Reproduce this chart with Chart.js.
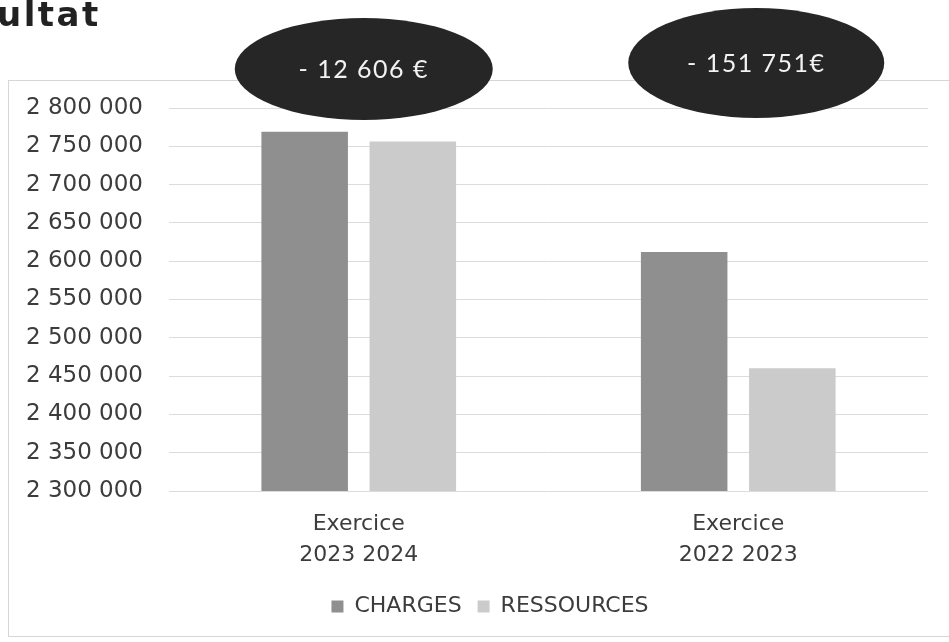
<!DOCTYPE html>
<html lang="fr">
<head>
<meta charset="utf-8">
<script src="https://cdn.jsdelivr.net/npm/chart.js@4/dist/chart.umd.min.js"></script>
<style>
  html, body { margin: 0; padding: 0; background: #fff; }
  #page { position: relative; width: 949px; height: 642px; overflow: hidden; }
  #titre { position: absolute; left: -3px; top: -3px; font: bold 34px "DejaVu Sans", sans-serif; letter-spacing: 2.5px; line-height: 1; color: #222; }
  #zone { position: absolute; left: 0; top: 0; width: 949px; height: 642px; }
</style>
</head>
<body>
<div id="page">
  <div id="zone"><canvas id="graphique"></canvas></div>
  <div id="titre">ultat</div>
</div>
<script>
// Données
const exercices = [['Exercice', '2023 2024'], ['Exercice', '2022 2023']];
const charges = [2768850, 2612000];
const ressources = [2756244, 2460249];
const ecarts = ['- 12 606 €', '- 151 751€'];
const axeMin = 2300000;
const axeMax = 2800000;
const axePas = 50000;

// Bulles noires au-dessus de chaque exercice (décalage / hauteur)
const bulles = [
    { dx: 5, y: 69, rx: 129, ry: 51 },
    { dx: 18, y: 63, rx: 128, ry: 55 }
];

const gris = '#3c3c3c';
const police = '"DejaVu Sans", sans-serif';

function formatMilliers(v) {
    return String(v).replace(/\B(?=(\d{3})+(?!\d))/g, ' ');
}

const cadrePlugin = {
    id: 'cadre',
    beforeDraw(chart) {
        const ctx = chart.ctx;
        ctx.save();
        ctx.strokeStyle = '#d6d6d6';
        ctx.lineWidth = 1;
        ctx.strokeRect(8.5, 80.5, 960, 556);
        ctx.restore();
    }
};

// la légende est un peu décalée vers la droite sur l'original
const legendePlugin = {
    id: 'decalageLegende',
    afterLayout(chart) {
        chart.legend.left += 26;
        chart.legend.right += 26;
    }
};

const bullesPlugin = {
    id: 'bulles',
    afterDraw(chart) {
        const ctx = chart.ctx;
        const x = chart.scales.x;
        ctx.save();
        bulles.forEach((b, i) => {
            const cx = x.getPixelForValue(i) + b.dx;
            ctx.beginPath();
            ctx.ellipse(cx, b.y, b.rx, b.ry, 0, 0, Math.PI * 2);
            ctx.fillStyle = '#262626';
            ctx.fill();
            ctx.fillStyle = '#f2f2f2';
            ctx.font = '25px Lato, sans-serif';
            ctx.letterSpacing = '1.5px';
            ctx.textAlign = 'center';
            ctx.textBaseline = 'middle';
            ctx.fillText(ecarts[i], cx, b.y + 1);
        });
        ctx.restore();
    }
};

new Chart(document.getElementById('graphique'), {
    type: 'bar',
    data: {
        labels: exercices,
        datasets: [{
            label: 'CHARGES',
            data: charges,
            backgroundColor: '#8f8f8f',
            categoryPercentage: 0.57,
            barPercentage: 0.8
        }, {
            label: 'RESSOURCES',
            data: ressources,
            backgroundColor: '#cbcbcb',
            categoryPercentage: 0.57,
            barPercentage: 0.8
        }]
    },
    options: {
        responsive: true,
        maintainAspectRatio: false,
        animation: false,
        layout: {
            padding: { top: 108, left: 0, right: 21, bottom: 14.5 }
        },
        scales: {
            y: {
                min: axeMin,
                max: axeMax,
                afterFit(scale) { scale.width = 169; },
                ticks: {
                    stepSize: axePas,
                    padding: 26,
                    color: gris,
                    font: { family: police, size: 23 },
                    callback: v => formatMilliers(v)
                },
                grid: { color: '#dcdcdc', drawTicks: false },
                border: { display: false }
            },
            x: {
                afterFit(scale) { scale.height = 88.5; },
                ticks: {
                    padding: 10,
                    color: gris,
                    font: { family: police, size: 22, lineHeight: 1.41 }
                },
                grid: { display: false },
                border: { display: false }
            }
        },
        plugins: {
            legend: {
                position: 'bottom',
                labels: {
                    boxWidth: 12,
                    boxHeight: 12,
                    padding: 16,
                    color: gris,
                    font: { family: police, size: 22 }
                }
            },
            tooltip: { enabled: false }
        }
    },
    plugins: [cadrePlugin, legendePlugin, bullesPlugin]
});
</script>
</body>
</html>
